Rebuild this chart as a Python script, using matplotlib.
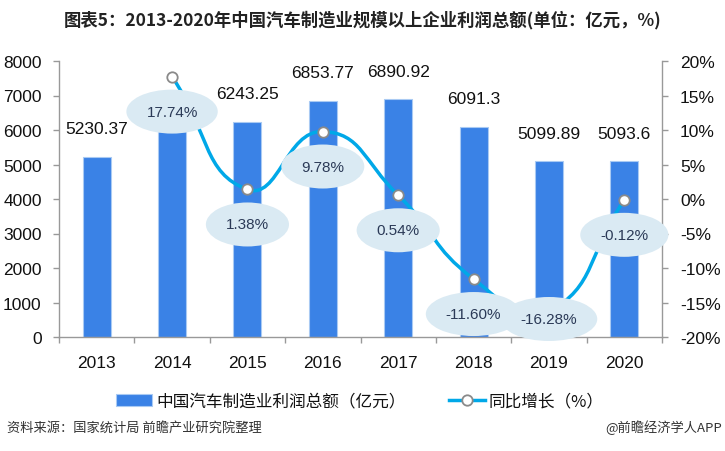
import numpy as np
import matplotlib
matplotlib.use('Agg')
import matplotlib.pyplot as plt
from matplotlib.patches import Ellipse, Patch, PathPatch
from matplotlib.lines import Line2D
from matplotlib.path import Path

years = ['2013', '2014', '2015', '2016', '2017', '2018', '2019', '2020']
profit = [5230.37, 6158.3, 6243.25, 6853.77, 6890.92, 6091.3, 5099.89, 5093.6]
# the 2014 value label is covered by the growth bubble in the reference
profit_labels = ['5230.37', '', '6243.25', '6853.77', '6890.92', '6091.3', '5099.89', '5093.6']
growth = [np.nan, 17.74, 1.38, 9.78, 0.54, -11.60, -16.28, -0.12]
growth_labels = ['', '17.74%', '1.38%', '9.78%', '0.54%', '-11.60%', '-16.28%', '-0.12%']
left_ticks = [0, 1000, 2000, 3000, 4000, 5000, 6000, 7000, 8000]
right_ticks = [-20, -15, -10, -5, 0, 5, 10, 15, 20]
right_tick_labels = [f'{v}%' for v in right_ticks]

title = '图表5：2013-2020年中国汽车制造业规模以上企业利润总额(单位：亿元，%)'
legend_bar = '中国汽车制造业利润总额（亿元）'
legend_line = '同比增长（%）'
source = '资料来源：国家统计局 前瞻产业研究院整理'
credit = '@前瞻经济学人APP'

CJK = ['Noto Sans CJK SC', 'DejaVu Sans']
LAT = ['Liberation Sans', 'DejaVu Sans']
plt.rcParams['font.family'] = LAT

W, H = 725, 452
fig = plt.figure(figsize=(W / 100, H / 100), dpi=100)
fig.patch.set_facecolor('white')

L, R, T, B = 59, 662, 62, 338
ax = fig.add_axes([L / W, 1 - B / H, (R - L) / W, (B - T) / H])
x = np.arange(len(years))

bar_color = '#3a82e6'
line_color = '#00a8e8'
spine_color = '#999999'

ax.bar(x, profit, width=0.37, color=bar_color, edgecolor='#a9caf3', linewidth=0.8, zorder=2)
ax.set_xlim(-0.5, len(years) - 0.5)
ax.set_ylim(0, 8000)
ax.set_yticks(left_ticks)
ax.set_yticklabels([str(v) for v in left_ticks])
ax.set_xticks(x)
ax.set_xticklabels(years)
ax.set_xticks(np.arange(-0.5, len(years), 1), minor=True)
ax.tick_params(axis='x', which='major', length=0, pad=13, labelsize=12.5, labelcolor='#111')
ax.tick_params(axis='x', which='minor', length=4.5, width=1, color=spine_color)
ax.tick_params(axis='y', length=4.5, width=1, color=spine_color, pad=8, labelsize=12.5, labelcolor='#111')
for s in ['top', 'right']:
    ax.spines[s].set_visible(False)
for s in ['left', 'bottom']:
    ax.spines[s].set_color(spine_color)
    ax.spines[s].set_linewidth(1)

for xi, v, lab in zip(x, profit, profit_labels):
    if lab:
        ax.annotate(lab, (xi, v), xytext=(0, 28), textcoords='offset pixels',
                    ha='center', va='center', fontsize=12.5, color='#111', zorder=3)

ax2 = ax.twinx()
ax2.set_ylim(-20, 20)
ax2.set_yticks(right_ticks)
ax2.set_yticklabels(right_tick_labels)
ax2.tick_params(axis='y', length=4.5, width=1, color=spine_color, pad=8.5, labelsize=12.5, labelcolor='#111')
for s in ['top', 'left', 'bottom']:
    ax2.spines[s].set_visible(False)
ax2.spines['right'].set_color(spine_color)
ax2.spines['right'].set_linewidth(1)

# smooth line (echarts-like bezier) computed in display space
valid = [i for i in range(len(years)) if not np.isnan(growth[i])]
pts = ax2.transData.transform(np.array([[x[i], growth[i]] for i in valid]))
n = len(pts)
smooth = 0.5
cps0, cps1 = [], []
for i in range(n):
    p = pts[i]
    prev = pts[i - 1] if i > 0 else p
    nxt = pts[i + 1] if i < n - 1 else p
    v = (nxt - prev) * smooth
    d0 = np.hypot(*(p - prev))
    d1 = np.hypot(*(p - nxt))
    s = d0 + d1
    if s != 0:
        d0 /= s
        d1 /= s
    cps0.append(p - v * d0)
    cps1.append(p + v * d1)
verts = [pts[0]]
codes = [Path.MOVETO]
for i in range(n - 1):
    verts += [cps1[i], cps0[i + 1], pts[i + 1]]
    codes += [Path.CURVE4] * 3
verts = ax2.transData.inverted().transform(np.array(verts))
ax2.add_patch(PathPatch(Path(verts, codes), facecolor='none', edgecolor=line_color,
                        linewidth=2.5, zorder=3, capstyle='round'))
ax2.plot(x, growth, linestyle='none', marker='o', ms=7.5, mfc='white', mec='#8a8a8a',
         mew=1.3, zorder=4)

renderer = fig.canvas.get_renderer()
for i in valid:
    px, py = ax2.transData.transform((x[i], growth[i]))
    cy = max(py - 35, H - 320)
    t = fig.text(px / W, cy / H, growth_labels[i], ha='center', va='center',
                 fontsize=11, color='#2b3a57', zorder=7)
    tw = t.get_window_extent(renderer).width
    e = Ellipse((px / W, cy / H), width=(tw + 40) / W, height=44 / H,
                transform=fig.transFigure, facecolor='#daeaf3', edgecolor='none', zorder=6)
    fig.patches.append(e)
    e.set_figure(fig)

fig.text(0.5, 1 - 20 / H, title, ha='center', va='center', fontsize=12.5,
         fontweight='bold', color='#222', family=CJK)

handles = [Patch(facecolor=bar_color, edgecolor='#a9caf3', linewidth=0.8),
           Line2D([], [], color=line_color, lw=2.5, marker='o', ms=7.5, mfc='white',
                  mec='#8a8a8a', mew=1.3)]
fig.legend(handles, [legend_bar, legend_line], loc='center', ncol=2,
           bbox_to_anchor=(360 / W, 1 - 402 / H), frameon=False,
           prop={'family': CJK, 'size': 12}, handlelength=2.15, handletextpad=0.25,
           columnspacing=2.6, labelcolor='#111')

fig.text(7 / W, 1 - 428 / H, source, ha='left', va='center', fontsize=9.5, color='#333', family=CJK)
fig.text(722 / W, 1 - 428 / H, credit, ha='right', va='center', fontsize=9.5, color='#333', family=CJK)

fig.savefig('out.png', dpi=100, facecolor='white')
